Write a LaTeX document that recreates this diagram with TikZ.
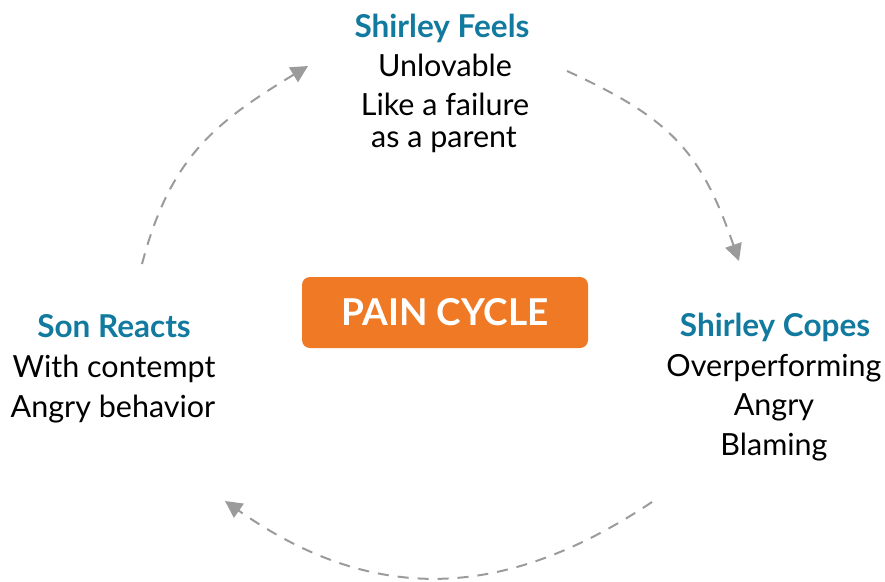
\documentclass[tikz,border=0pt]{standalone}
\usepackage{fontspec}
\setmainfont{Lato}
\usetikzlibrary{arrows.meta}
\definecolor{myteal}{RGB}{17,122,158}
\definecolor{myorange}{RGB}{240,121,38}
\definecolor{arrowgray}{RGB}{155,155,155}
\begin{document}
\begin{tikzpicture}[x=1pt,y=-1pt,
  headline/.style={font=\fontsize{31.5}{36}\selectfont\bfseries, text=myteal, anchor=base, inner sep=0pt},
  itemline/.style={font=\fontsize{30.5}{34}\selectfont, text=black, anchor=base, inner sep=0pt},
  centerbox/.style={fill=myorange, rounded corners=8pt, minimum width=286pt, minimum height=71pt,
    text=white, font=\fontsize{37}{42}\selectfont\bfseries, inner sep=0pt},
  cyclearrow/.style={draw=arrowgray, line width=2pt, dash pattern=on 11pt off 9pt,
    -{Triangle[length=17pt,width=17pt]}}]
\useasboundingbox (0,0) rectangle (885,581);

% centre box
\node[centerbox] (pain) at (445,312.5) {PAIN CYCLE};

% top block
\node[headline] (feelsT) at (442,37) {Shirley Feels};
\node[itemline] (feels1) at (445,76) {Unlovable};
\node[itemline] (feels2) at (445,115) {Like a failure};
\node[itemline] (feels3) at (444,147) {as a parent};

% right block
\node[headline] (copesT) at (775,336) {Shirley Copes};
\node[itemline] (copes1) at (774,376) {Overperforming};
\node[itemline] (copes2) at (774,415) {Angry};
\node[itemline] (copes3) at (774,455) {Blaming};

% left block
\node[headline] (sonT) at (114,337) {Son Reacts};
\node[itemline] (son1) at (114,377) {With contempt};
\node[itemline] (son2) at (113,417) {Angry behavior};

% arc end points
\coordinate (a1s) at (142,264);
\coordinate (a1e) at (308,66);
\coordinate (a2s) at (567,71);
\coordinate (a2e) at (739,261);
\coordinate (a3s) at (652,502);
\coordinate (a3e) at (225,501);

\draw[cyclearrow] (a1s) .. controls (170,158) and (214,123) .. (a1e);
\draw[cyclearrow] (a2s) .. controls (672,119) and (701,152) .. (a2e);
\draw[cyclearrow] (a3s) .. controls (502,602) and (372,604) .. (a3e);
\end{tikzpicture}
\end{document}
